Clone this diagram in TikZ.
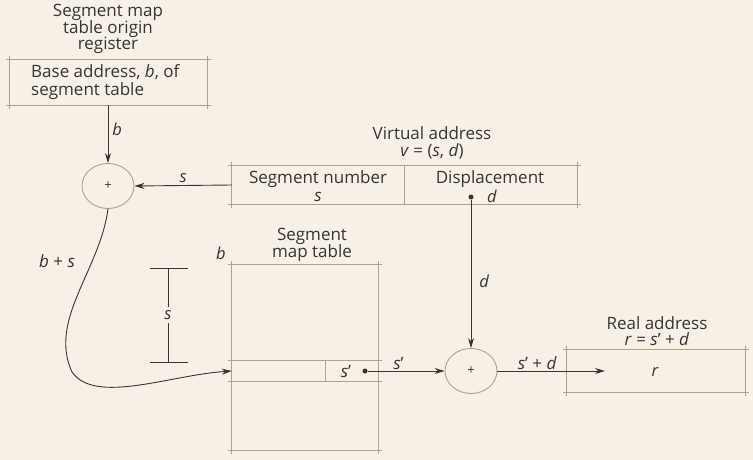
\documentclass[tikz,border=0pt]{standalone}
\usepackage{fontspec}
\setmainfont{Open Sans}
\usetikzlibrary{arrows.meta,shapes.geometric}
\definecolor{bg}{HTML}{F6F0E7}
\definecolor{boxc}{HTML}{B3A08A}
\definecolor{ink}{HTML}{353535}
\newcommand{\tightlines}{\lineskiplimit=-20pt\relax\lineskip=0pt\relax}
\newcommand{\draftbox}[1]{%
  \draw[boxline] ([xshift=-4pt]#1.north west) -- ([xshift=4pt]#1.north east);
  \draw[boxline] ([xshift=-4pt]#1.south west) -- ([xshift=4pt]#1.south east);
  \draw[boxline] ([yshift=4pt]#1.north west) -- ([yshift=-4pt]#1.south west);
  \draw[boxline] ([yshift=4pt]#1.north east) -- ([yshift=-4pt]#1.south east);}
\begin{document}
\begin{tikzpicture}[x=1pt,y=-1pt,
  every node/.style={font=\fontsize{17}{16.5}\selectfont\tightlines, text=ink, inner sep=0pt, align=center},
  boxtext/.style={font=\fontsize{17}{18}\selectfont\tightlines},
  boxline/.style={draw=boxc, line width=0.9pt},
  adder/.style={ellipse, draw=boxc, line width=0.9pt, minimum width=52pt, minimum height=45pt, font=\fontsize{13}{13}\selectfont},
  arr/.style={draw=ink, line width=0.9pt, -{Stealth[length=10pt,width=6pt]}},
  wire/.style={draw=ink, line width=0.9pt},
  dot/.style={circle, fill=ink, minimum size=5pt, inner sep=0pt},
  lbl/.style={font=\fontsize{16.5}{16}\selectfont\itshape}]
\fill[bg] (0,0) rectangle (753,460);
\useasboundingbox (0,0) rectangle (753,460);

% register
\node (regtitle) at (108,29) {Segment map\\table origin\\register};
\node[minimum width=197pt, minimum height=45pt] (reg) at (108.5,82.5) {};
\draftbox{reg}
\node[boxtext, anchor=west, align=left] (regtext) at (31,82.5) {Base address, \textit{b}, of\\segment table};

% adder 1
\node[adder] (c1) at (108,186) {+};
\draw[arr] (reg.south -| c1) -- node[lbl, right=4pt, pos=0.42] (lb) {b} (c1.north);

% virtual address
\node (vatitle) at (432,143) {Virtual address\\\textit{v} = (\textit{s}, \textit{d})};
\node[minimum width=345pt, minimum height=38pt] (va) at (404.5,185) {};
\draftbox{va}
\coordinate (vadiv) at (404,166);
\draw[boxline] (vadiv) -- (vadiv |- va.south);
\node[boxtext] (segtext) at (318,186) {Segment number\\\textit{s}};
\node[boxtext] (disptext) at (490,186) {Displacement\\\phantom{\textit{d}}};
\node[lbl] (dlab) at (492,196) {d};
\node[dot] (ddot) at (471,197) {};
\draw[arr] (va.west) -- node[lbl, above=2pt] (ls) {s} (c1.east);

% segment map table
\node (smtitle) at (312,245) {Segment\\map table};
\node[lbl] (bt) at (221,253) {b};
\node[minimum width=146pt, minimum height=185pt] (smt) at (305,357.5) {};
\draftbox{smt}
\node[minimum width=146pt, minimum height=20pt] (row) at (305,371) {};
\draftbox{row}
\coordinate (rowdiv) at (325,361);
\draw[boxline] (rowdiv) -- (rowdiv |- row.south);
\node (sp) at (346,372) {\textit{s}’};
\node[dot] (sdot) at (365,371) {};

% dimension s
\coordinate (dt) at (168,268);
\coordinate (db) at (168,362);
\node[lbl] (ds) at (168,315) {s};
\draw[wire] (150,268) -- (188,268);
\draw[wire] (150,362) -- (188,362);
\draw[wire] (dt) -- ([yshift=3pt]ds.north);
\draw[wire] ([yshift=-3pt]ds.south) -- (db);

% b + s curve
\node (bs) at (57,261) {\textit{b} + \textit{s}};
\draw[arr] (c1.south) .. controls (100,270) and (48,320) .. (72,372) .. controls (95,405) and (170,375) .. (row.west);

% adder 2
\node[adder] (c2) at (471,371) {+};
\draw[arr] (ddot) -- node[lbl, right=8pt, pos=0.55] (ld) {d} (c2.north);
\draw[arr] (sdot) -- node[above=1pt, pos=0.4] (lsp) {\textit{s}’} (c2.west);

% real address
\node (ratitle) at (657,331) {Real address\\\textit{r} = \textit{s}’ + \textit{d}};
\node[minimum width=178pt, minimum height=42pt] (ra) at (656,371) {};
\draftbox{ra}
\node[lbl] (rr) at (655,372) {r};
\coordinate (raend) at (605,371);
\draw[arr] (c2.east) -- node[above=1pt, pos=0.37] (lspd) {\textit{s}’ + \textit{d}} (raend);
\end{tikzpicture}
\end{document}
